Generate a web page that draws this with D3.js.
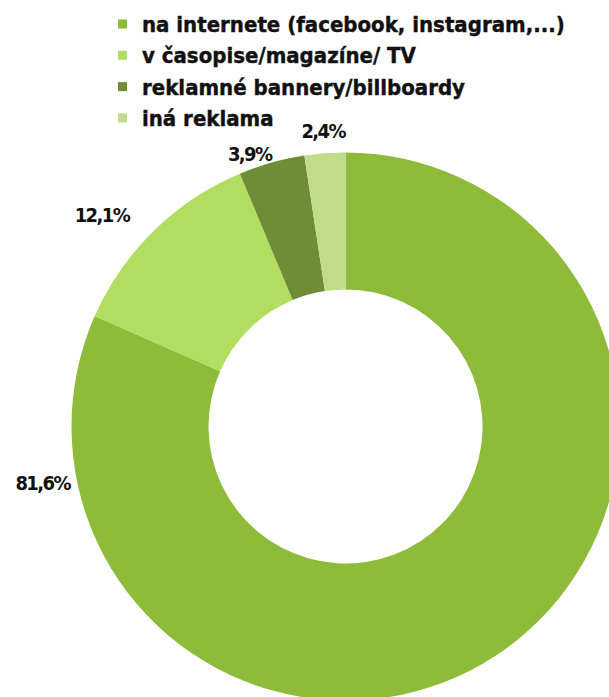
<!DOCTYPE html>
<html>
<head>
<meta charset="utf-8">
<script src="https://cdn.jsdelivr.net/npm/d3@7"></script>
<style>
  html, body { margin: 0; padding: 0; background: #fff; }
  svg { display: block; }
  text { font-family: "DejaVu Sans Condensed", "DejaVu Sans", sans-serif; font-weight: bold; fill: #111; }
</style>
</head>
<body>
<svg id="chart" width="609" height="697"></svg>
<script>
// Where respondents noticed advertising (share of answers, %)
const categories = [
  "na internete (facebook, instagram,...)",
  "v časopise/magazíne/ TV",
  "reklamné bannery/billboardy",
  "iná reklama"
];
const values = [81.6, 12.1, 3.9, 2.4];
const valueLabels = ["81,6%", "12,1%", "3,9%", "2,4%"];
const colors = ["#8fbb3b", "#b1dd60", "#6f8c37", "#c0dc89"];

const width = 609, height = 697;
const cx = 345.5, cy = 426.5;
const outerR = 274, innerR = 137;

const svg = d3.select("#chart");

const pie = d3.pie().sort(null).value(d => d.value);
const arcs = pie(categories.map((c, i) => ({ name: c, value: values[i], label: valueLabels[i], color: colors[i] })));
const arc = d3.arc().innerRadius(innerR).outerRadius(outerR);

const g = svg.append("g").attr("transform", `translate(${cx},${cy})`);

g.selectAll("path.slice")
  .data(arcs)
  .join("path")
  .attr("class", "slice")
  .attr("d", arc)
  .attr("fill", d => d.data.color);

// Value labels sit just outside the ring near the slice's mid-angle;
// the large slice's midpoint falls off the canvas, so its label is pulled to the left side.
const deg = Math.PI / 180;
const labelShift = [0, -4.5 * deg, -3.7 * deg, 0];
const labelRadius = [308, 323, 289, 297];
const labelAngle = d => d.index === 0 ? 259.5 * deg : (d.startAngle + d.endAngle) / 2 + labelShift[d.index];
g.selectAll("text.value")
  .data(arcs)
  .join("text")
  .attr("class", "value")
  .attr("x", d => Math.sin(labelAngle(d)) * labelRadius[d.index])
  .attr("y", d => -Math.cos(labelAngle(d)) * labelRadius[d.index] + 7.5)
  .attr("text-anchor", "middle")
  .attr("font-size", 20)
  .attr("letter-spacing", -1.6)
  .text(d => d.data.label);

// Legend
const legend = svg.append("g").attr("transform", "translate(118,24)");
const rowH = 31.3;
const rows = legend.selectAll("g.row")
  .data(arcs)
  .join("g")
  .attr("class", "row")
  .attr("transform", (d, i) => `translate(0,${i * rowH})`);
rows.append("rect")
  .attr("x", 0).attr("y", -4.5)
  .attr("width", 9).attr("height", 9)
  .attr("fill", d => d.data.color);
rows.append("text")
  .attr("x", 24)
  .attr("y", 8)
  .attr("font-size", 22)
  .attr("stroke", "#111")
  .attr("stroke-width", 0.4)
  .text(d => d.data.name);
</script>
</body>
</html>
